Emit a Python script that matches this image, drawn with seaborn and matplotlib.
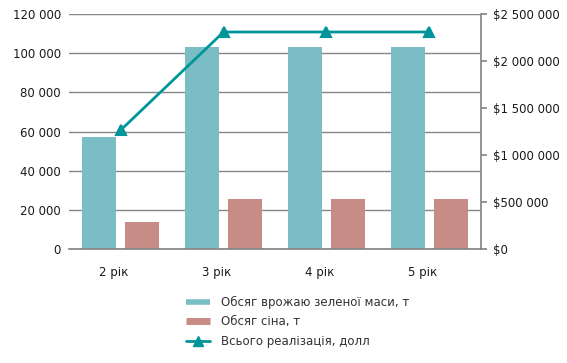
import pandas as pd
import matplotlib
matplotlib.use("Agg")
import matplotlib.pyplot as plt
import matplotlib.transforms as mtransforms
import seaborn as sns
from matplotlib.lines import Line2D
from matplotlib.ticker import FuncFormatter

# дані з графіка
years = ["2 рік", "3 рік", "4 рік", "5 рік"]
green_mass = [57000, 103000, 103000, 103000]
hay = [14000, 25500, 25500, 25500]
total_sales = [1265000, 2310000, 2310000, 2310000]

s_green = "Обсяг врожаю зеленої маси, т"
s_hay = "Обсяг сіна, т"
s_total = "Всього реалізація, долл"

c_green = "#7bbdc5"
c_hay = "#c78c85"
c_line = "#00959a"
c_grid = "#868686"

df_bars = pd.DataFrame({"Рік": years, s_green: green_mass, s_hay: hay})
df_bars = df_bars.melt(id_vars="Рік", var_name="Серія", value_name="Обсяг")
df_line = pd.DataFrame({"Рік": years, "Всього": total_sales})

sns.set_theme(style="white")
plt.rcParams["font.family"] = ["DejaVu Sans"]

fig = plt.figure(figsize=(5.67, 3.63), dpi=100)
ax = fig.add_axes([0.122, 0.314, 0.726, 0.647])

sns.barplot(
    data=df_bars, x="Рік", y="Обсяг", hue="Серія",
    palette=[c_green, c_hay], width=0.83, gap=0.2,
    saturation=1, legend=False, ax=ax, zorder=2, linewidth=0,
)
ax.set_ylim(0, 120000)
ax.set_yticks(range(0, 120001, 20000))
ax.yaxis.set_major_formatter(FuncFormatter(lambda v, p: f"{int(v):,}".replace(",", " ")))
ax.yaxis.grid(True, color=c_grid, linewidth=1)
ax.set_axisbelow(True)
ax.set_xlim(-0.5, 3.5)
ax.set_xlabel("")
ax.set_ylabel("")
for side in ["left", "top", "right"]:
    ax.spines[side].set_visible(False)
ax.spines["bottom"].set_color(c_grid)
ax.tick_params(axis="both", length=0, labelsize=8.5, colors="#1a1a1a", pad=6)
ax.tick_params(axis="x", pad=12)
# підписи категорій трохи лівіше, як в Excel
shift = mtransforms.ScaledTranslation(-7 / 100, 0, fig.dpi_scale_trans)
for lbl in ax.get_xticklabels():
    lbl.set_transform(lbl.get_transform() + shift)

ax2 = ax.twinx()
sns.pointplot(
    data=df_line, x="Рік", y="Всього", color=c_line, marker="^",
    markersize=7, linewidth=2, ax=ax2,
)
ax2.set_xlim(-0.5, 3.5)
ax2.set_ylim(0, 2500000)
ax2.set_yticks(range(0, 2500001, 500000))
ax2.yaxis.set_major_formatter(FuncFormatter(lambda v, p: "$" + f"{int(v):,}".replace(",", " ")))
ax2.set_ylabel("")
for side in ["left", "top", "bottom"]:
    ax2.spines[side].set_visible(False)
ax2.spines["right"].set_color(c_grid)
ax2.tick_params(axis="y", length=4, color=c_grid, labelsize=8.5, colors="#1a1a1a", pad=5)

handles = [
    Line2D([], [], color=c_green, linewidth=4, solid_capstyle="butt"),
    Line2D([], [], color=c_hay, linewidth=5, solid_capstyle="butt"),
    Line2D([], [], color=c_line, linewidth=2, marker="^", markersize=7),
]
fig.legend(
    handles, [s_green, s_hay, s_total], loc="upper left",
    bbox_to_anchor=(0.31, 0.215), frameon=False, fontsize=8.5,
    handlelength=2.0, handletextpad=0.9, labelspacing=0.55, labelcolor="#333333",
)

fig.savefig("out.png", dpi=100)
